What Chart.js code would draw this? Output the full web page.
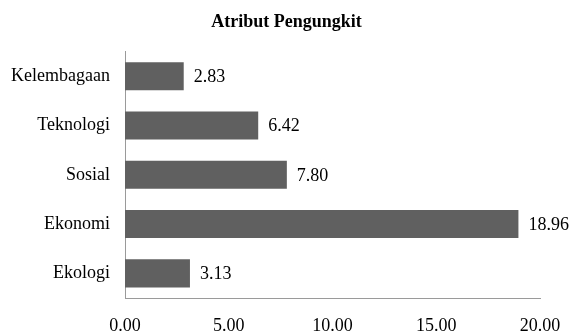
<html>
  <head>
    <title>Atribut Pengungkit</title>
    <script src="https://cdn.jsdelivr.net/npm/chart.js@4.4.0/dist/chart.umd.min.js"></script>
    <style>
      body { margin: 0; background: #fff; }
      #wrap { width: 573px; height: 334px; }
    </style>
  </head>
  <body>
    <div id="wrap"><canvas id="bar-chart" width="573" height="334"></canvas></div>
  </body>
  <script>
    // data
    var attributes = ["Kelembagaan", "Teknologi", "Sosial", "Ekonomi", "Ekologi"];
    var scores = [2.83, 6.42, 7.80, 18.96, 3.13];
    var xTicks = [0, 5, 10, 15, 20];

    var serif = '"Liberation Serif"';
    Chart.defaults.font.family = serif;

    // draws the value right of each bar
    var valueLabels = {
      id: 'valueLabels',
      afterDatasetsDraw: function (chart) {
        var ctx = chart.ctx;
        var meta = chart.getDatasetMeta(0);
        ctx.save();
        ctx.font = '18px ' + serif;
        ctx.fillStyle = '#000';
        ctx.textAlign = 'left';
        ctx.textBaseline = 'middle';
        for (i = 0; i < meta.data.length; i++) {
          var bar = meta.data[i];
          ctx.fillText(scores[i].toFixed(2), bar.x + 10, bar.y + 1);
        }
        ctx.restore();
      }
    };

    new Chart(document.getElementById("bar-chart"), {
      type: 'bar',
      data: {
        labels: attributes,
        datasets: [{
          data: scores,
          backgroundColor: '#606060',
          borderWidth: 0,
          categoryPercentage: 1,
          barPercentage: 0.57
        }]
      },
      plugins: [valueLabels],
      options: {
        indexAxis: 'y',
        responsive: false,
        animation: false,
        layout: { padding: 0 },
        plugins: {
          legend: { display: false },
          tooltip: { enabled: false },
          title: {
            display: true,
            text: 'Atribut Pengungkit',
            color: '#000',
            font: { family: serif, size: 18, weight: 'bold' },
            padding: { top: 12, bottom: 18 }
          }
        },
        scales: {
          x: {
            min: 0,
            max: 20,
            afterBuildTicks: function (s) {
              s.ticks = xTicks.map(function (v) { return { value: v }; });
            },
            afterFit: function (s) {
              s.height = 36;
              s.paddingLeft = 0;
              s.paddingRight = 33; // room right of the plot, title stays centred on the page
            },
            grid: { display: false, drawTicks: false },
            border: { display: true, color: '#9a9a9a', width: 1 },
            ticks: {
              color: '#000',
              padding: 17,
              maxRotation: 0,
              font: { family: serif, size: 18 },
              callback: function (v) { return Number(v).toFixed(2); }
            }
          },
          y: {
            afterFit: function (s) { s.width = 125; },
            grid: { display: false, drawTicks: false },
            border: { display: true, color: '#9a9a9a', width: 1 },
            ticks: {
              color: '#000',
              padding: 15,
              font: { family: serif, size: 18 }
            }
          }
        }
      }
    });
  </script>
</html>
